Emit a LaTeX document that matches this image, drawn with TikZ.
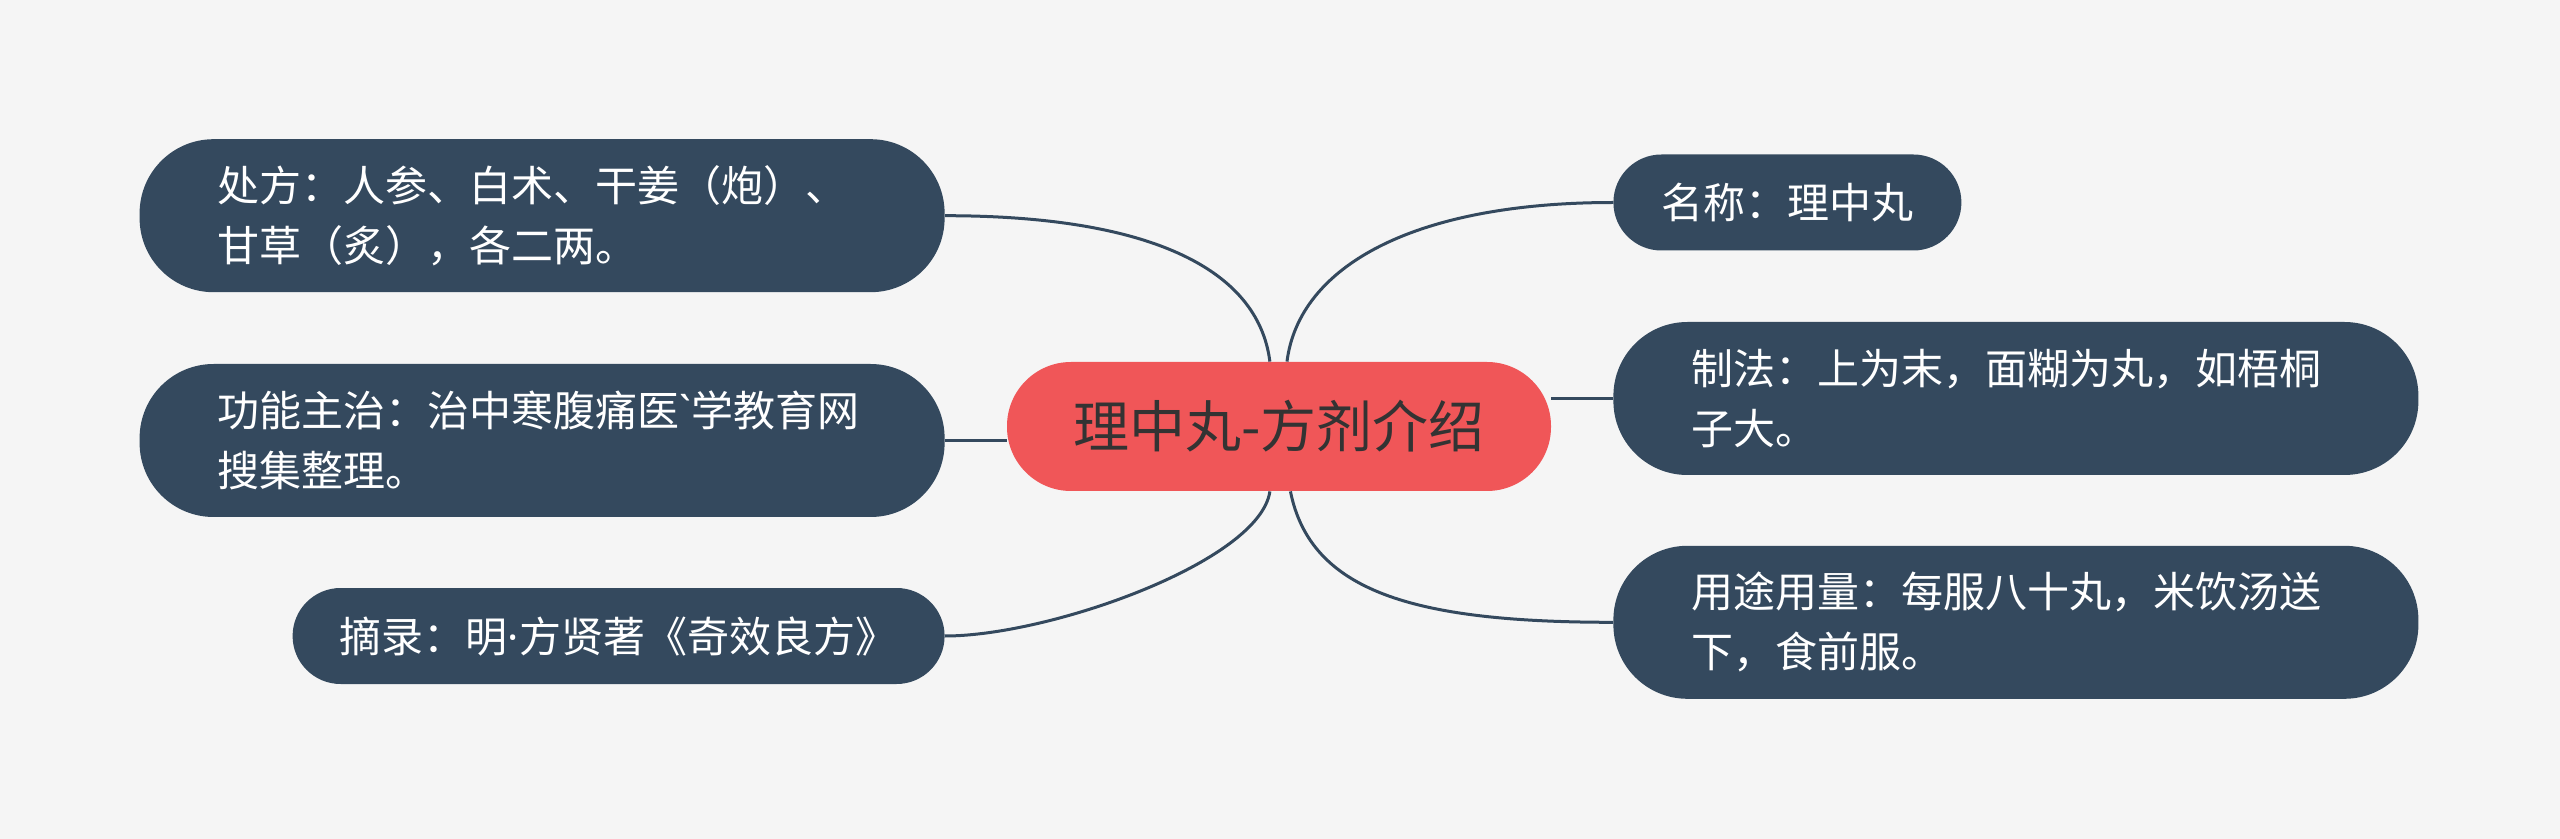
\documentclass[tikz,border=0pt]{standalone}
\usepackage{fontspec}
\setmainfont{Noto Sans CJK SC}
\newfontfamily\latinfont{Noto Sans}
\usetikzlibrary{positioning}

\definecolor{paper}{HTML}{F5F5F5}
\definecolor{leafblue}{HTML}{34495E}
\definecolor{rootred}{HTML}{F05658}
\definecolor{rootink}{HTML}{333333}

\begin{document}
\begin{tikzpicture}[
	x=0.5pt,y=-0.5pt,
	root/.style={
		rectangle,fill=rootred,text=rootink,
		font=\fontsize{28}{34}\selectfont,
		minimum width=272pt,minimum height=64.5pt,
		rounded corners=32pt,inner sep=0pt
	},
	leaf/.style={
		rectangle,fill=leafblue,text=white,
		font=\fontsize{21}{30}\selectfont,
		minimum height=48pt,rounded corners=24pt,
		inner sep=0pt
	},
	leaftall/.style={
		leaf,align=left,
		text width=324.5pt,inner xsep=39pt,
		minimum height=76.5pt,rounded corners=37pt
	},
	branch/.style={draw=leafblue,line width=1.5pt}
	]
	
	\fill[paper] (0,0) rectangle (2560,839);
	
	\node[root] (root) at (1279,426.5) {理中丸-方剂介绍};
	
	\node[leaftall,anchor=east] (gongneng) at (945,440.5)
	{功能主治：治中寒腹痛医{\latinfont\textasciigrave}学教育网\\搜集整理。};
	
	\node[leaftall,above=35.5pt of gongneng] (chufang)
	{处方：人参、白术、干姜（炮）、\\甘草（炙），各二两。};
	
	\node[leaf,anchor=east,minimum width=326pt] (zhailu) at (945,636)
	{摘录：明{\latinfont ·}方贤著《奇效良方》};
	
	\node[leaf,anchor=west,minimum width=174pt] (mingcheng) at (1613,202.5)
	{名称：理中丸};
	
	\node[leaftall,anchor=west] (zhifa) at (1613,398.5)
	{制法：上为末，面糊为丸，如梧桐\\子大。};
	
	\node[leaftall,below=35pt of zhifa] (yongtu)
	{用途用量：每服八十丸，米饮汤送\\下，食前服。};
	
	\draw[branch] (root.98) .. controls +(-12,-95) and +(200,0) .. (chufang.east);
	\draw[branch] (gongneng.east) -- (gongneng.east -| root.west);
	\draw[branch] (root.262) .. controls +(-10,70) and +(105,0) .. (zhailu.east);
	
	\draw[branch] (root.83) .. controls +(12,-95) and +(-200,0) .. (mingcheng.west);
	\draw[branch] (zhifa.west) -- (zhifa.west -| root.east);
	\draw[branch] (root.280) .. controls +(20,100) and +(-200,0) .. (yongtu.west);
	
\end{tikzpicture}
\end{document}
